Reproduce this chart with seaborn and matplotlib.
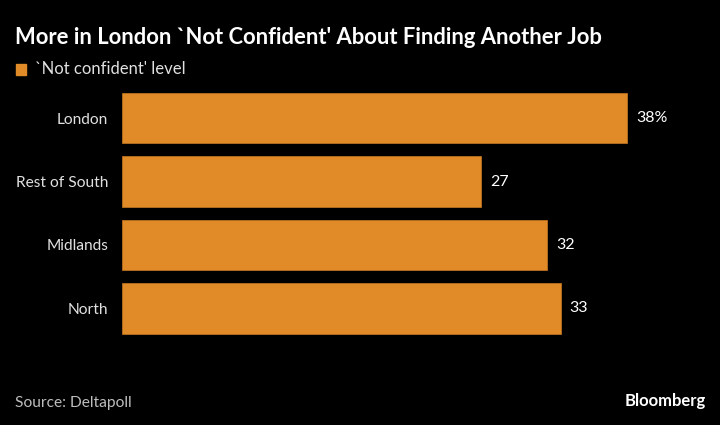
import matplotlib
matplotlib.use("Agg")
import matplotlib.pyplot as plt
import seaborn as sns
import pandas as pd

categories = ["London", "Rest of South", "Midlands", "North"]
values = [38, 27, 32, 33]
value_labels = ["38%", "27", "32", "33"]
series_name = "`Not confident' level"

BG = "black"
ORANGE = "#E08B28"
FONT = ["Lato", "DejaVu Sans"]

sns.set_theme(style="dark")
plt.rcParams["font.family"] = FONT

df = pd.DataFrame({"region": categories, "value": values})

fig = plt.figure(figsize=(7.2, 4.25), dpi=100, facecolor=BG)
W, H = 720, 425
left, right = 122, 705
top, bottom = 86.25, 340.25
ax = fig.add_axes([left / W, 1 - bottom / H, (right - left) / W, (bottom - top) / H])
ax.set_facecolor(BG)

sns.barplot(data=df, x="value", y="region", order=categories, color=ORANGE,
            width=0.79, edgecolor="#B8701E", linewidth=0.6, saturation=1, ax=ax)

px_per_unit = 505 / 38
ax.set_xlim(0, (right - left) / px_per_unit)
ax.set_ylim(3.5, -0.5)

for i, (v, lab) in enumerate(zip(values, value_labels)):
    ax.text(v + 9 / px_per_unit, i, lab, color="white", fontsize=11.5,
            va="center", ha="left")

ax.set_xlabel("")
ax.set_ylabel("")
ax.set_xticks([])
ax.tick_params(axis="y", length=0, pad=10, labelsize=11.2, labelcolor="#e0e0e0")
for s in ax.spines.values():
    s.set_visible(False)
ax.grid(False)

fig.text(15 / W, 1 - 37 / H, "More in London `Not Confident' About Finding Another Job",
         color="white", fontsize=15.8, fontweight="bold", va="center", ha="left")
fig.patches.append(plt.Rectangle((16 / W, 1 - 75 / H), 10 / W, 11 / H,
                                 transform=fig.transFigure, color=ORANGE, figure=fig))
fig.text(35 / W, 1 - 69.5 / H, series_name, color="#e0e0e0", fontsize=12,
         va="center", ha="left")
fig.text(15 / W, 1 - 403 / H, "Source: Deltapoll", color="#bdbdbd", fontsize=11.2,
         va="center", ha="left")
fig.text(706 / W, 1 - 401 / H, "Bloomberg", color="white", fontsize=12,
         fontweight="bold", va="center", ha="right")

fig.savefig("out.png", dpi=100, facecolor=BG)
